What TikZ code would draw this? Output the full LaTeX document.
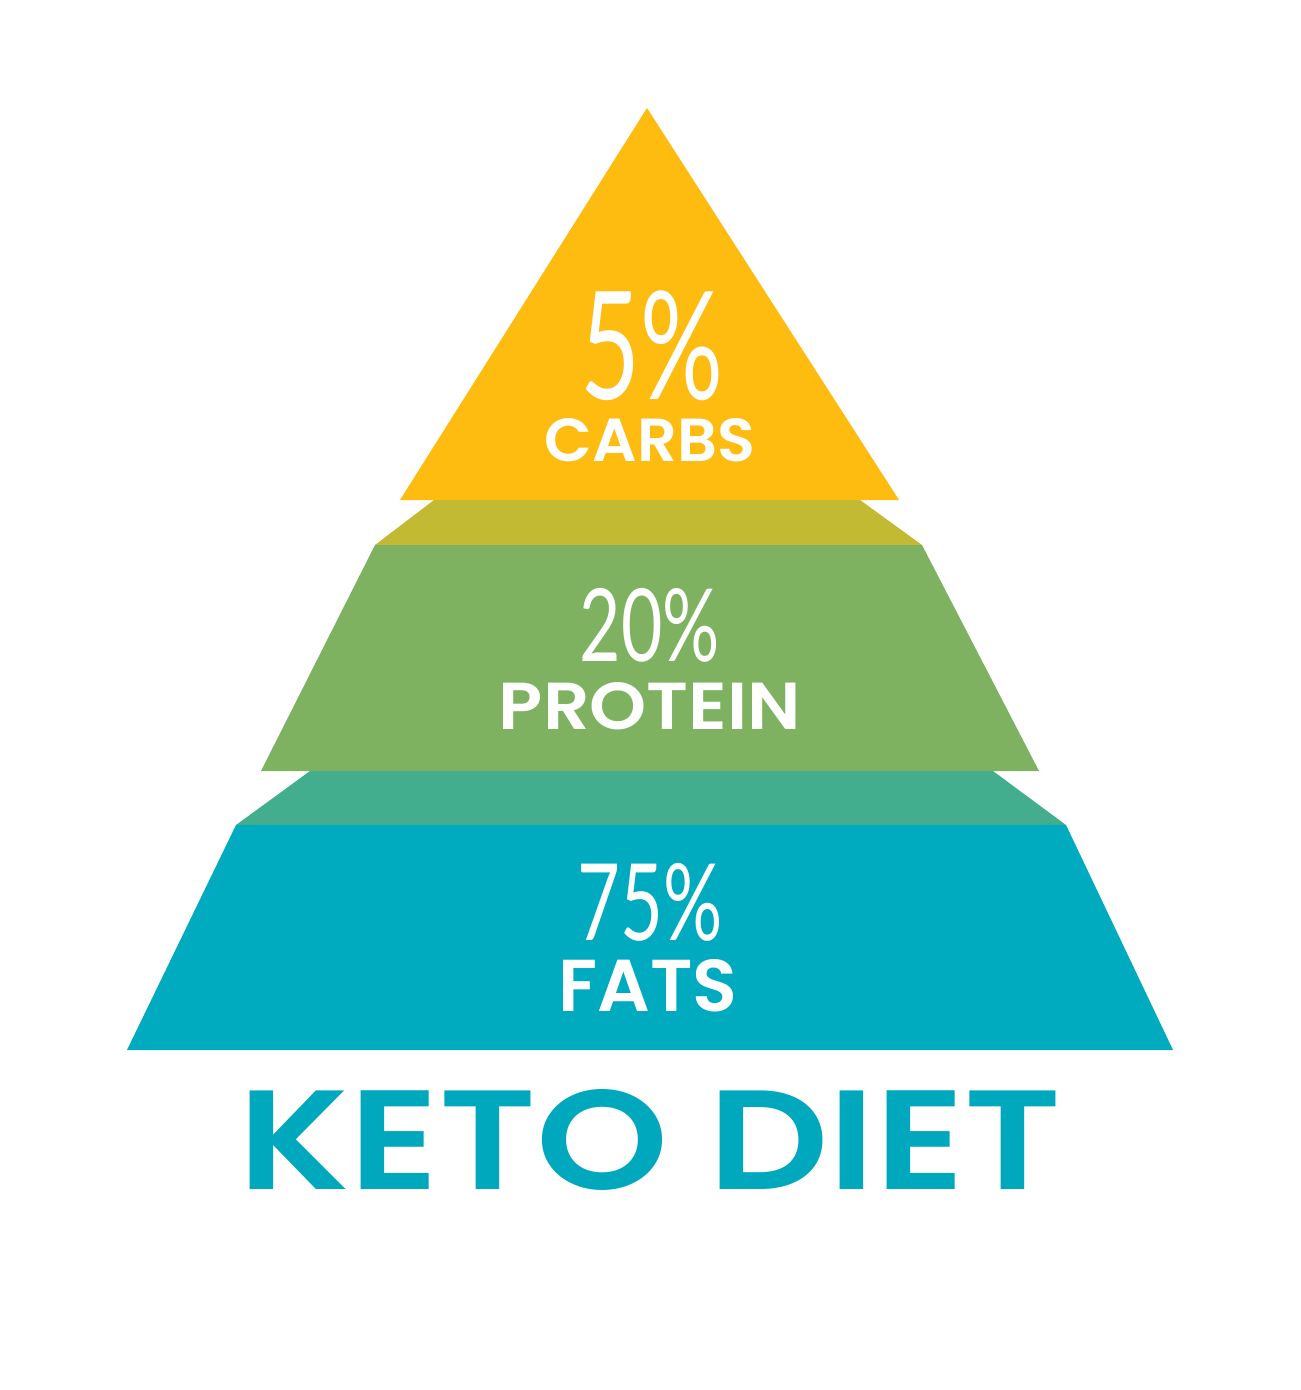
\documentclass[tikz,border=0pt]{standalone}
\usepackage{fontspec}
\usepackage{graphicx}
\setmainfont{Poppins}
\newfontfamily\pctfont{Lato}
\newfontfamily\wordfont{Poppins SemiBold}

\definecolor{carbsyellow}{RGB}{254,187,16}
\definecolor{oliveband}{RGB}{194,186,50}
\definecolor{proteingreen}{RGB}{127,178,96}
\definecolor{tealband}{RGB}{67,174,142}
\definecolor{fatsblue}{RGB}{0,171,192}
\definecolor{ketoblue}{RGB}{0,168,190}

\tikzset{
    share/.style={inner sep=0pt, outer sep=0pt, text=white},
    word/.style={inner sep=0pt, outer sep=0pt, text=white, font=\wordfont},
}

\begin{document}
\begin{tikzpicture}[x=0.5pt, y=-0.5pt]
    \useasboundingbox (0,0) rectangle (1300,1390);
    % pyramid layers
    \fill[carbsyellow] (647,108) -- (899,500) -- (400,500) -- cycle;
    \fill[oliveband] (434,500) -- (860,500) -- (922,545) -- (375,545) -- cycle;
    \fill[proteingreen] (375,545) -- (922,545) -- (1039,771) -- (261,771) -- cycle;
    \fill[tealband] (310,771) -- (993,771) -- (1066,825) -- (236,825) -- cycle;
    \fill[fatsblue] (236,825) -- (1066,825) -- (1173,1050) -- (127,1050) -- cycle;
    % carbs
    \node[share] (cpct) at (652,346) {\resizebox*{71.5pt}{55pt}{\pctfont 5\%}};
    \node[word] (cname) at (650,440) {\resizebox{105pt}{21.5pt}{CARBS}};
    % protein
    \node[share] (ppct) at (650,625) {\resizebox*{70pt}{37pt}{\pctfont 20\%}};
    \node[word] (pname) at (650,706) {\resizebox{151pt}{23.5pt}{PROTEIN}};
    % fats
    \node[share] (fpct) at (650,902) {\resizebox*{72.5pt}{39pt}{\pctfont 75\%}};
    \node[word] (fname) at (648,986) {\resizebox{89.5pt}{26pt}{FATS}};
    % title
    \node[word, text=ketoblue] (title) at (650,1140) {\resizebox{411.5pt}{50pt}{KETO DIET}};
\end{tikzpicture}
\end{document}
